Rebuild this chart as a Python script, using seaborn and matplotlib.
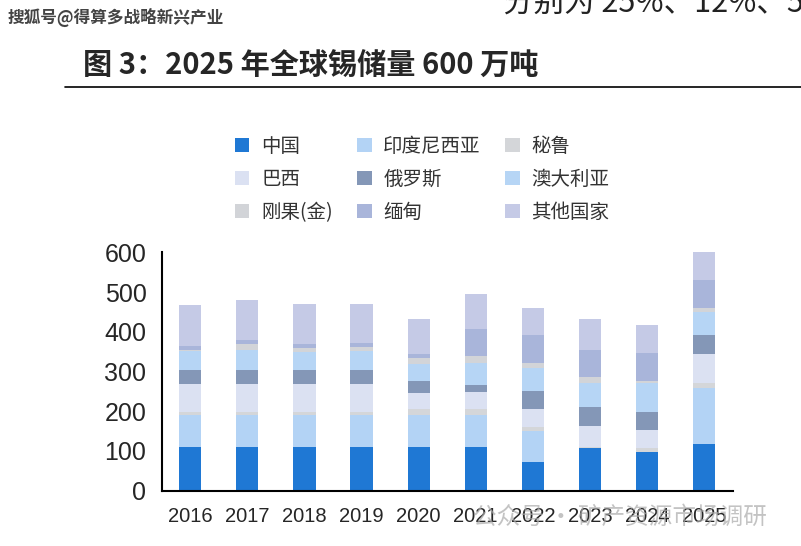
import pandas as pd
import matplotlib.pyplot as plt
import seaborn as sns
from matplotlib.patches import Patch

# tin reserves by country, 10k tonnes
years = ['2016', '2017', '2018', '2019', '2020', '2021', '2022', '2023', '2024', '2025']
china = [110, 110, 110, 110, 110, 110, 72, 108, 98, 118]
indonesia = [80, 80, 80, 80, 80, 80, 77, 0, 0, 140]
peru = [7, 7, 7, 7, 15, 16, 12, 2, 9, 13]
brazil = [72, 72, 72, 72, 40, 42, 45, 54, 46, 74]
russia = [35, 35, 35, 35, 30, 18, 44, 46, 46, 46]
australia = [48, 50, 45, 47, 43, 56, 58, 61, 72, 60]
congo = [3, 15, 10, 10, 15, 17, 13, 14, 4, 9]
myanmar = [10, 10, 10, 10, 11, 69, 70, 70, 71, 70]
others = [103, 102, 101, 99, 88, 86, 70, 77, 72, 70]

countries = ['中国', '印度尼西亚', '秘鲁', '巴西', '俄罗斯', '澳大利亚', '刚果(金)', '缅甸', '其他国家']
series = [china, indonesia, peru, brazil, russia, australia, congo, myanmar, others]
colors = ['#1f78d4', '#b3d3f5', '#d4d6d9', '#dbe1f2', '#8497b7',
          '#b6d5f5', '#d2d4d8', '#a9b5da', '#c5cae6']

sns.set_style('white')
plt.rcParams['font.family'] = ['Liberation Sans', 'Noto Sans CJK SC', 'DejaVu Sans']
cjk = ['Noto Sans CJK SC', 'DejaVu Sans']

df = pd.DataFrame(dict(zip(countries, series)), index=years)
cum = df.cumsum(axis=1)

fig = plt.figure(figsize=(8.01, 5.46), dpi=100)
ax = fig.add_axes([0.2019, 0.1013, 0.7128, 0.4366])

# draw cumulative totals from the top layer down so each one covers the next
for name, col in reversed(list(zip(countries, colors))):
    sns.barplot(x=years, y=cum[name].values, color=col, saturation=1,
                width=0.39, ax=ax, linewidth=0)

ax.set_ylim(0, 600)
ax.set_xlim(-0.5, 9.5)
ax.set_yticks(range(0, 601, 100))
ax.tick_params(axis='y', direction='in', length=7, width=1.5, labelsize=18, pad=11)
ax.set_xticks(range(10))
ax.set_xticklabels(years, fontsize=14.5)
ax.tick_params(axis='x', which='major', length=0, pad=12)
ax.set_xticks([i - 0.5 for i in range(11)], minor=True)
ax.tick_params(axis='x', which='minor', direction='in', length=6, width=1.5)
for s in ['top', 'right']:
    ax.spines[s].set_visible(False)
for s in ['left', 'bottom']:
    ax.spines[s].set_linewidth(1.5)
    ax.spines[s].set_color('black')
ax.set_xlabel('')
ax.set_ylabel('')

# legend laid out row by row, like the reference
handles = [Patch(facecolor=c, edgecolor='none') for c in colors]
order = [0, 3, 6, 1, 4, 7, 2, 5, 8]
leg = fig.legend([handles[i] for i in order], [countries[i] for i in order],
                 ncol=3, frameon=False, loc='center', bbox_to_anchor=(0.527, 0.672),
                 prop={'family': cjk, 'size': 14}, handlelength=0.75, handleheight=0.75,
                 handletextpad=0.6, columnspacing=1.25, labelspacing=0.62)
for t in leg.get_texts():
    t.set_color('#333333')

# title and rule
fig.text(0.103, 0.88, '图 3：2025 年全球锡储量 600 万吨', fontsize=21, fontweight='bold',
         family=cjk, va='center', ha='left')
fig.add_artist(plt.Line2D([0.081, 1.0], [0.841, 0.841], color='black', lw=1.2))

# page fragments / watermarks
fig.text(0.01, 0.968, '搜狐号@得算多战略新兴产业', fontsize=12, fontweight='bold',
         family=cjk, color='#444444', va='center', ha='left')
fig.text(0.628, 0.978, '分别为 25%、12%、5', fontsize=22, family=cjk,
         color='#222222', va='baseline', ha='left')
fig.text(0.59, 0.052, '公众号 · 矿产资源市场调研', fontsize=17, family=cjk,
         color='#aaaaaa', alpha=0.7, va='center', ha='left')

fig.savefig('out.png', dpi=100)
